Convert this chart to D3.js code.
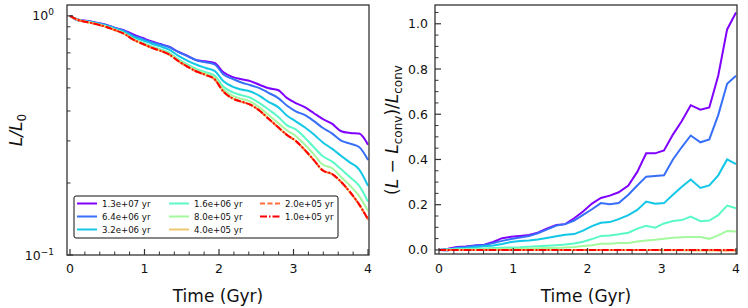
<!DOCTYPE html>
<html>
<head>
<meta charset="utf-8">
<script src="https://cdn.jsdelivr.net/npm/d3@7"></script>
<style>
  body { margin: 0; background: #fff; }
  svg { display: block; font-family: "DejaVu Sans", sans-serif; }
</style>
</head>
<body>
<svg id="chart" width="748" height="308"></svg>
<script>
// sample times (Gyr)
const times = [0.00, 0.12, 0.24, 0.36, 0.48, 0.61, 0.73, 0.85, 0.97, 1.09, 1.21, 1.33,
  1.45, 1.58, 1.70, 1.82, 1.94, 2.06, 2.18, 2.30, 2.42, 2.55, 2.67, 2.79, 2.91, 3.03,
  3.15, 3.27, 3.39, 3.52, 3.64, 3.76, 3.88, 4.00];

// L/L0 of the converged run
const lConv = [1.0, 0.958, 0.94, 0.922, 0.90, 0.87, 0.84, 0.795, 0.765, 0.737, 0.715, 0.69,
  0.648, 0.612, 0.585, 0.566, 0.543, 0.482, 0.452, 0.438, 0.425, 0.40, 0.37, 0.343, 0.318,
  0.30, 0.275, 0.25, 0.226, 0.218, 0.202, 0.183, 0.163, 0.141];

// (L - Lconv)/Lconv for each timestep
const rel13e7 = [0, 0.005, 0.013, 0.015, 0.02, 0.023, 0.035, 0.052, 0.058, 0.062, 0.066, 0.076,
  0.094, 0.11, 0.114, 0.14, 0.17, 0.205, 0.23, 0.24, 0.255, 0.285, 0.345, 0.427, 0.427, 0.44,
  0.51, 0.57, 0.64, 0.62, 0.63, 0.77, 0.975, 1.05];
const rel64e6 = [0, -0.003, 0.01, 0.013, 0.018, 0.022, 0.03, 0.04, 0.048, 0.055, 0.062, 0.074,
  0.09, 0.108, 0.114, 0.13, 0.155, 0.18, 0.207, 0.202, 0.207, 0.244, 0.285, 0.324, 0.327, 0.33,
  0.40, 0.455, 0.506, 0.476, 0.489, 0.596, 0.735, 0.77];
const rel32e6 = [0, 0.003, 0.007, 0.009, 0.012, 0.016, 0.02, 0.026, 0.035, 0.04, 0.042, 0.046,
  0.053, 0.06, 0.067, 0.07, 0.085, 0.105, 0.12, 0.123, 0.136, 0.154, 0.177, 0.214, 0.204, 0.207,
  0.244, 0.279, 0.311, 0.274, 0.285, 0.33, 0.40, 0.379];
const rel16e6 = [0, 0.002, 0.003, 0.004, 0.005, 0.006, 0.008, 0.01, 0.011, 0.012, 0.014, 0.016,
  0.018, 0.021, 0.024, 0.028, 0.036, 0.048, 0.062, 0.064, 0.069, 0.076, 0.094, 0.107, 0.098, 0.117,
  0.128, 0.132, 0.147, 0.127, 0.13, 0.154, 0.196, 0.184];
const rel80e5 = [0, 0.001, 0.001, 0.002, 0.002, 0.003, 0.003, 0.004, 0.005, 0.005, 0.006, 0.007,
  0.008, 0.009, 0.011, 0.013, 0.017, 0.021, 0.027, 0.027, 0.031, 0.031, 0.037, 0.042, 0.045, 0.049,
  0.054, 0.056, 0.057, 0.057, 0.049, 0.064, 0.084, 0.082];
const rel40e5 = [0, 0, 0, 0, 0, 0, 0, 0, 0, 0, 0, 0, 0, 0, 0, 0, 0, 0, 0, 0, 0, 0, 0, 0, 0,
  -0.001, -0.001, -0.001, -0.002, -0.002, -0.002, -0.003, -0.003, -0.003];
const rel20e5 = [0, 0, 0, 0, 0, 0, 0, 0, 0, 0, 0, 0, 0, 0, 0, 0, 0, 0, 0, 0, 0, 0, 0, 0, 0,
  0, 0, 0, 0, 0, 0, -0.001, -0.001, -0.001];
const rel10e5 = [0, 0, 0, 0, 0, 0, 0, 0, 0, 0, 0, 0, 0, 0, 0, 0, 0, 0, 0, 0, 0, 0, 0, 0, 0,
  0, 0, 0, 0, 0, 0, 0, 0, 0];

const labels = ["1.3e+07 yr", "6.4e+06 yr", "3.2e+06 yr", "1.6e+06 yr",
  "8.0e+05 yr", "4.0e+05 yr", "2.0e+05 yr", "1.0e+05 yr"];
const colors = ["#8000ff", "#376ff9", "#12c7e6", "#5bf9c7", "#a4f99f", "#edc76f", "#ff6f39", "#ff0000"];
const dashes = [null, null, null, null, null, null, "5,2.5", "7,2,1.5,2"];
const relSeries = [rel13e7, rel64e6, rel32e6, rel16e6, rel80e5, rel40e5, rel20e5, rel10e5];

const series = labels.map((label, i) => ({
    label,
    color: colors[i],
    dash: dashes[i],
    rel: relSeries[i],
    // L/L0 = Lconv * (1 + rel)
    lum: lConv.map((v, k) => v * (1 + relSeries[i][k]))
}));

const svg = d3.select("#chart");
const ink = "#333";

// 공통 축 그리기
const drawFrame = (g, x, y, box) => {
    g.append("rect")
        .attr("x", box.x0).attr("y", box.y0)
        .attr("width", box.x1 - box.x0).attr("height", box.y1 - box.y0)
        .attr("fill", "none").attr("stroke", ink).attr("stroke-width", 1.3);
};

const drawXTicks = (g, x, box) => {
    const major = [0, 1, 2, 3, 4];
    const minor = d3.range(0, 4.01, 0.2).filter(v => Math.abs(v - Math.round(v)) > 1e-6);
    g.selectAll(null).data(minor).join("line")
        .attr("x1", d => x(d)).attr("x2", d => x(d))
        .attr("y1", box.y1).attr("y2", box.y1 - 3.5)
        .attr("stroke", ink).attr("stroke-width", 1);
    g.selectAll(null).data(major).join("line")
        .attr("x1", d => x(d)).attr("x2", d => x(d))
        .attr("y1", box.y1).attr("y2", box.y1 - 6)
        .attr("stroke", ink).attr("stroke-width", 1.2);
    g.selectAll(null).data(major).join("text")
        .attr("x", d => x(d)).attr("y", 273)
        .attr("text-anchor", "middle")
        .attr("font-size", 12.5).attr("fill", "#111")
        .text(d => d);
    g.append("text")
        .attr("x", (box.x0 + box.x1) / 2).attr("y", 302)
        .attr("text-anchor", "middle")
        .attr("font-size", 17).attr("fill", "#111")
        .text("Time (Gyr)");
};

// ---------- left panel ----------
const boxL = { x0: 67, x1: 369, y0: 5, y1: 255 };
const xL = d3.scaleLinear().domain([-0.04, 4.013]).range([boxL.x0, boxL.x1]);
const yL = d3.scaleLog().domain([0.1, 1.11]).range([boxL.y1, boxL.y0]);
const gL = svg.append("g");

gL.append("clipPath").attr("id", "clipL").append("rect")
    .attr("x", boxL.x0).attr("y", boxL.y0)
    .attr("width", boxL.x1 - boxL.x0).attr("height", boxL.y1 - boxL.y0);

const lineL = d3.line()
    .x((d, k) => xL(times[k]))
    .y(d => yL(d))
    .curve(d3.curveMonotoneX);

gL.append("g").attr("clip-path", "url(#clipL)")
    .selectAll("path").data(series).join("path")
    .attr("d", d => lineL(d.lum))
    .attr("fill", "none")
    .attr("stroke", d => d.color)
    .attr("stroke-width", 2)
    .attr("stroke-dasharray", d => d.dash);

// log y ticks
const minorL = [0.2, 0.3, 0.4, 0.5, 0.6, 0.7, 0.8, 0.9];
gL.selectAll(null).data(minorL).join("line")
    .attr("x1", boxL.x0).attr("x2", boxL.x0 + 3.5)
    .attr("y1", d => yL(d)).attr("y2", d => yL(d))
    .attr("stroke", ink).attr("stroke-width", 1);
gL.selectAll(null).data([0.1, 1]).join("line")
    .attr("x1", boxL.x0).attr("x2", boxL.x0 + 6)
    .attr("y1", d => yL(d)).attr("y2", d => yL(d))
    .attr("stroke", ink).attr("stroke-width", 1.2);
[[1, "0"], [0.1, "\u22121"]].forEach(([v, exp]) => {
    const t = gL.append("text")
        .attr("x", 54).attr("y", yL(v) + 4.5)
        .attr("text-anchor", "end")
        .attr("font-size", 12.5).attr("fill", "#111");
    t.append("tspan").text("10");
    t.append("tspan").attr("dy", -5).attr("font-size", 9).text(exp);
});

drawFrame(gL, xL, yL, boxL);
drawXTicks(gL, xL, boxL);

const ylabL = gL.append("text")
    .attr("transform", "translate(22,130) rotate(-90)")
    .attr("text-anchor", "middle")
    .attr("font-size", 17).attr("fill", "#111");
ylabL.append("tspan").attr("font-style", "italic").text("L/L");
ylabL.append("tspan").attr("dy", 4).attr("font-size", 12).text("0");

// legend
const leg = gL.append("g");
leg.append("rect")
    .attr("x", 74).attr("y", 196).attr("width", 264).attr("height", 42)
    .attr("rx", 2)
    .attr("fill", "#fff").attr("stroke", "#111").attr("stroke-width", 1);
const colX = [77, 169, 260];
const rowY = [203.5, 216.5, 229.5];
series.forEach((s, i) => {
    const cx = colX[Math.floor(i / 3)];
    const cy = rowY[i % 3];
    leg.append("line")
        .attr("x1", cx).attr("x2", cx + 20)
        .attr("y1", cy).attr("y2", cy)
        .attr("stroke", s.color).attr("stroke-width", 2)
        .attr("stroke-dasharray", s.dash);
    leg.append("text")
        .attr("x", cx + 25).attr("y", cy + 3)
        .attr("font-size", 8.6).attr("fill", "#111")
        .text(s.label);
});

// ---------- right panel ----------
const boxR = { x0: 435, x1: 737, y0: 5, y1: 254 };
const xR = d3.scaleLinear().domain([-0.054, 4.013]).range([boxR.x0, boxR.x1]);
const yR = d3.scaleLinear().domain([-0.018, 1.083]).range([boxR.y1, boxR.y0]);
const gR = svg.append("g");

gR.append("clipPath").attr("id", "clipR").append("rect")
    .attr("x", boxR.x0).attr("y", boxR.y0)
    .attr("width", boxR.x1 - boxR.x0).attr("height", boxR.y1 - boxR.y0);

const lineR = d3.line()
    .x((d, k) => xR(times[k]))
    .y(d => yR(d));

gR.append("g").attr("clip-path", "url(#clipR)")
    .selectAll("path").data(series).join("path")
    .attr("d", d => lineR(d.rel))
    .attr("fill", "none")
    .attr("stroke", d => d.color)
    .attr("stroke-width", 2)
    .attr("stroke-dasharray", d => d.dash);

const majorR = [0, 0.2, 0.4, 0.6, 0.8, 1.0];
const minorR = d3.range(0, 1.081, 0.05).filter(v => Math.abs(v * 5 - Math.round(v * 5)) > 1e-6);
gR.selectAll(null).data(minorR).join("line")
    .attr("x1", boxR.x0).attr("x2", boxR.x0 + 3.5)
    .attr("y1", d => yR(d)).attr("y2", d => yR(d))
    .attr("stroke", ink).attr("stroke-width", 1);
gR.selectAll(null).data(majorR).join("line")
    .attr("x1", boxR.x0).attr("x2", boxR.x0 + 6)
    .attr("y1", d => yR(d)).attr("y2", d => yR(d))
    .attr("stroke", ink).attr("stroke-width", 1.2);
gR.selectAll(null).data(majorR).join("text")
    .attr("x", 428).attr("y", d => yR(d) + 4.5)
    .attr("text-anchor", "end")
    .attr("font-size", 12.5).attr("fill", "#111")
    .text(d => d3.format(".1f")(d));

drawFrame(gR, xR, yR, boxR);
drawXTicks(gR, xR, boxR);

const ylabR = gR.append("text")
    .attr("transform", "translate(398,130) rotate(-90)")
    .attr("text-anchor", "middle")
    .attr("font-size", 17).attr("fill", "#111");
ylabR.append("tspan").text("(");
ylabR.append("tspan").attr("font-style", "italic").text("L");
ylabR.append("tspan").text(" \u2212 ");
ylabR.append("tspan").attr("font-style", "italic").text("L");
ylabR.append("tspan").attr("dy", 4).attr("font-size", 12).text("conv");
ylabR.append("tspan").attr("dy", -4).text(")/");
ylabR.append("tspan").attr("font-style", "italic").text("L");
ylabR.append("tspan").attr("dy", 4).attr("font-size", 12).text("conv");
</script>
</body>
</html>
